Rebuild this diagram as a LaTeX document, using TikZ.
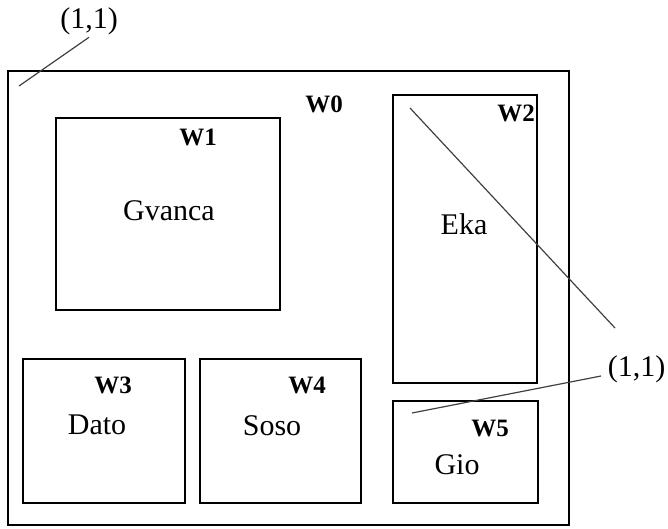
\documentclass[tikz,border=0pt]{standalone}
\usepackage{fontspec}
\setmainfont{Liberation Serif}
\begin{document}
\begin{tikzpicture}[x=1pt,y=-1pt]
	\useasboundingbox (0,0) rectangle (668,528);
	\tikzset{win/.style={rectangle,draw,line width=1.5pt,inner sep=0pt},
		lead/.style={line width=1.2pt,black!75}}
	
	\node (W0) [win,minimum width=561pt,minimum height=454pt] at (288.5,298) {};
	\begin{scope}[every node/.style={win}]
		\node (W1) [minimum width=224pt,minimum height=192pt] at (168,214) {};
		\node (W2) [minimum width=144pt,minimum height=288pt] at (465,239) {};
		\node (W3) [minimum width=162pt,minimum height=144pt] at (104,431) {};
		\node (W4) [minimum width=161pt,minimum height=144pt] at (280.5,431) {};
		\node (W5) [minimum width=145pt,minimum height=102pt] at (465.5,452) {};
	\end{scope}
	
	\begin{scope}[every node/.style={font=\fontsize{25}{30}\selectfont\bfseries,inner sep=1pt}]
		\node (t0) at (324,104) {W0};
		\node (t1) at (198,137) {W1};
		\node (t2) at (516,113) {W2};
		\node (t3) at (113,385) {W3};
		\node (t4) at (307,385) {W4};
		\node (t5) at (490,428) {W5};
	\end{scope}
	
	\begin{scope}[every node/.style={font=\fontsize{30}{36}\selectfont,inner sep=2pt}]
		\node (gvanca) at (169,211) {Gvanca};
		\node (eka) at (464,224) {Eka};
		\node (dato) at (97,425) {Dato};
		\node (soso) at (272,426) {Soso};
		\node (gio) at (457,465) {Gio};
		\node (top11) at (89,21.5) {(1,1)};
		\node (right11) at (636.5,369) {(1,1)};
	\end{scope}
	
	\coordinate (p0) at (19,86);
	\coordinate (p2) at (410,108);
	\coordinate (p5) at (412,413);
	\coordinate (r2) at ([shift={(-21.5,-41)}]right11.center);
	\coordinate (r5) at ([shift={(-35.5,7)}]right11.center);
	\draw [lead] (top11.south) -- (p0);
	\draw [lead] (p2) -- (r2);
	\draw [lead] (p5) -- (r5);
\end{tikzpicture}
\end{document}
